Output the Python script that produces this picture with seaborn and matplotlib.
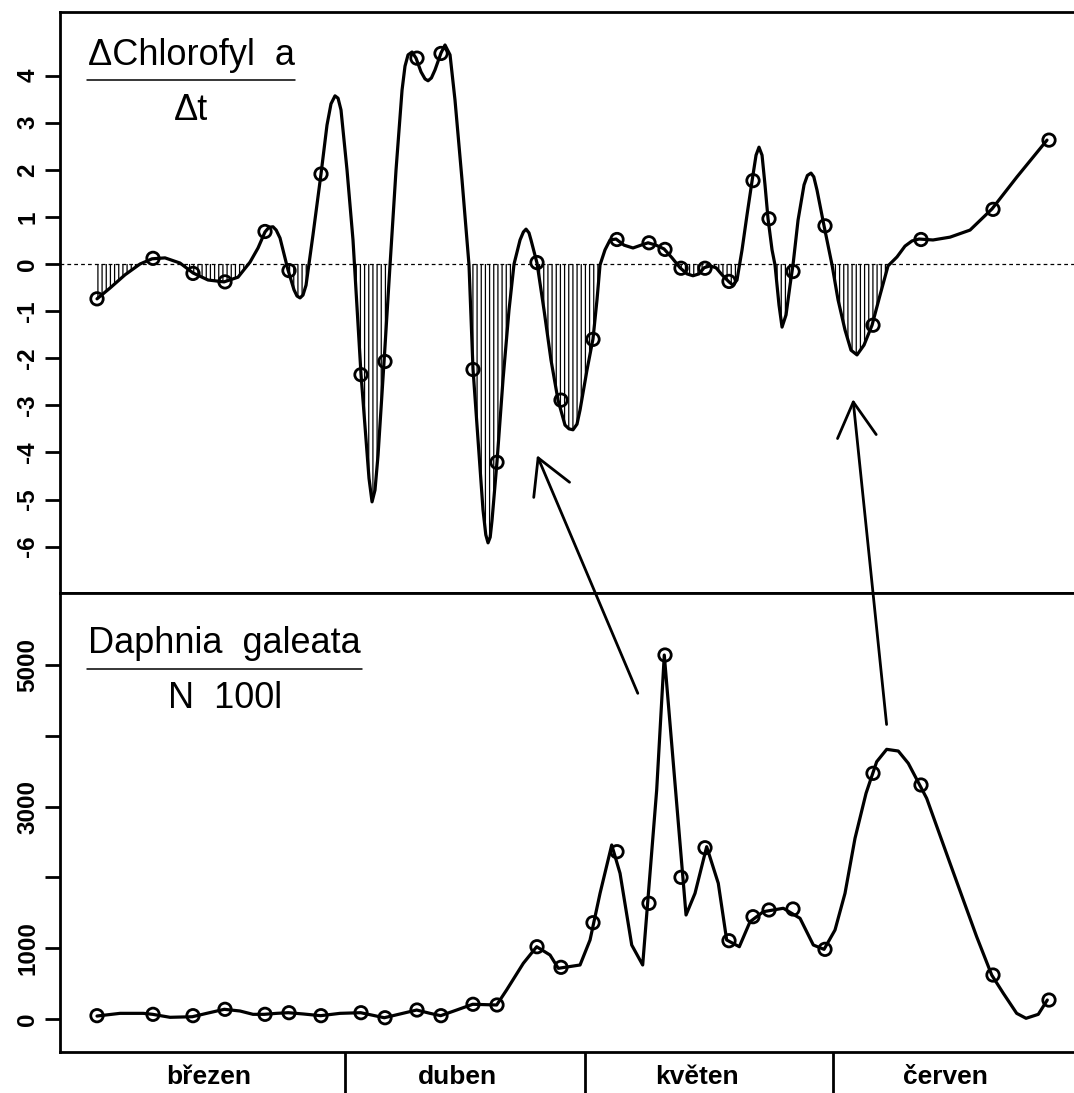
import numpy as np
import pandas as pd
import matplotlib
matplotlib.use("Agg")
import matplotlib.pyplot as plt
import seaborn as sns
from matplotlib.patches import ConnectionPatch

# ---------------- data (x = days since 1 March) ----------------
sample_days = [0, 7, 12, 16, 21, 24, 28, 33, 36, 40, 43, 47, 50, 55, 58,
               62, 65, 69, 71, 73, 76, 79, 82, 84, 87, 91, 97, 103, 112, 119]
chl_rate = [-0.74, 0.12, -0.20, -0.38, 0.69, -0.14, 1.91, -2.35, -2.07, 4.37,
            4.47, -2.24, -4.21, 0.03, -2.89, -1.60, 0.52, 0.45, 0.31, -0.09,
            -0.09, -0.37, 1.77, 0.96, -0.16, 0.81, -1.30, 0.52, 1.16, 2.63]
daphnia = [47, 66, 47, 137, 66, 89, 47, 89, 18, 127, 47, 208, 198, 1021, 730,
           1360, 2363, 1634, 5141, 2001, 2419, 1106, 1445, 1540, 1554, 984,
           3470, 3305, 621, 268]

# smooth curve of dChl/dt
chl_curve_day = [0, 1.63, 3.5, 5.38, 6.88, 8.5, 10.38, 12.0, 13.88, 15.88, 17.63, 19.13,
                 20.13, 21.0, 21.5, 22.0, 22.4, 22.88, 23.88, 24.63, 25.0, 25.38, 25.75,
                 26.13, 27.0, 28.0, 28.75, 29.25, 29.75, 30.13, 30.5, 31.25, 32.0, 33.0,
                 33.63, 34.0, 34.38, 34.75, 35.13, 35.88, 36.63, 37.38, 38.13, 38.5, 38.88,
                 39.38, 39.88, 40.5, 41.0, 41.38, 41.8, 42.25, 43.0, 43.5, 44.13, 44.75,
                 45.63, 46.5, 47.0, 47.63, 48.25, 48.6, 48.88, 49.15, 49.38, 50.0, 50.75,
                 51.5, 52.13, 52.88, 53.3, 53.63, 54.0, 54.25, 55.0, 55.88, 56.75, 57.63,
                 58.5, 59.0, 59.5, 60.0, 60.38, 61.25, 62.0, 62.5, 62.88, 63.5, 64.13,
                 64.88, 65.88, 67.0, 68.0, 68.88, 69.88, 70.88, 71.88, 72.88, 73.75, 74.5,
                 75.25, 75.88, 76.63, 77.38, 78.13, 79.0, 79.5, 80.0, 80.63, 81.25, 81.88,
                 82.38, 82.75, 83.13, 83.5, 83.88, 84.38, 84.75, 85.25, 85.63, 86.13, 86.63,
                 87.0, 87.63, 88.38, 88.8, 89.25, 89.6, 90.0, 90.88, 91.38, 91.88, 92.63,
                 93.5, 94.25, 95.0, 95.88, 96.88, 97.88, 98.88, 100.0, 101.0, 101.88,
                 102.75, 104.5, 106.63, 109.13, 111.88, 115.0, 118.75]
chl_curve_val = [-0.74, -0.51, -0.23, 0.00, 0.11, 0.13, 0.02, -0.19, -0.34, -0.38, -0.28, 0.04,
                 0.34, 0.68, 0.78, 0.79, 0.72, 0.55, -0.13, -0.55, -0.68, -0.72, -0.66,
                 -0.45, 0.62, 1.91, 2.95, 3.40, 3.57, 3.52, 3.27, 2.00, 0.51, -2.34,
                 -3.74, -4.55, -5.05, -4.80, -4.06, -2.08, -0.02, 2.00, 3.69, 4.20, 4.44,
                 4.50, 4.37, 4.08, 3.93, 3.89, 3.95, 4.12, 4.48, 4.65, 4.44, 3.48,
                 1.78, -0.02, -2.23, -3.74, -5.22, -5.75, -5.92, -5.80, -5.44, -4.20, -2.46,
                 -0.98, 0.00, 0.51, 0.68, 0.74, 0.66, 0.51, 0.02, -0.98, -2.04, -2.89,
                 -3.42, -3.50, -3.52, -3.40, -3.10, -2.25, -1.59, -0.76, -0.02, 0.30, 0.51,
                 0.53, 0.40, 0.34, 0.40, 0.45, 0.40, 0.32, 0.13, -0.08, -0.21, -0.25,
                 -0.21, -0.08, -0.04, -0.08, -0.23, -0.38, -0.45, -0.34, 0.30, 1.04, 1.76,
                 2.31, 2.48, 2.31, 1.68, 0.96, 0.30, -0.02, -0.87, -1.34, -1.08, -0.45,
                 -0.02, 0.93, 1.68, 1.88, 1.93, 1.85, 1.57, 0.81, 0.40, -0.02, -0.76,
                 -1.40, -1.83, -1.93, -1.72, -1.30, -0.66, -0.04, 0.15, 0.38, 0.49,
                 0.53, 0.51, 0.57, 0.72, 1.17, 1.85, 2.63]

# Daphnia line
daph_curve_day = [0, 2.88, 5.79, 6.96, 9.13, 11.91, 13.71, 15.91, 17.88, 19.5, 20.91, 22.46,
                  23.91, 25.79, 27.96, 30.38, 32.96, 34.34, 35.91, 37.88, 39.96, 41.63,
                  42.96, 44.96, 46.96, 49.96, 51.2, 53.29, 54.96, 56.63, 57.66, 60.38,
                  61.63, 62.88, 64.34, 65.38, 66.84, 68.21, 69.96, 70.91, 72.04, 73.63,
                  74.75, 76.21, 77.66, 78.71, 80.29, 81.63, 83.29, 85.79, 87.88, 89.54,
                  90.88, 92.25, 93.5, 94.75, 96.13, 97.46, 98.71, 100.16, 101.41, 103.71,
                  106.63, 108.29, 109.96, 111.84, 113.29, 114.96, 116.13, 117.66, 118.79]
daph_curve_val = [42, 80, 80, 66, 24, 32, 80, 137, 113, 66, 66, 80,
                  89, 71, 47, 80, 89, 56, 18, 71, 127, 80,
                  47, 127, 208, 198, 410, 787, 1021, 904, 716, 763,
                  1116, 1775, 2458, 2058, 1045, 763, 3234, 5141, 3612, 1469,
                  1775, 2434, 1917, 1116, 1021, 1374, 1516, 1564, 1422, 1045,
                  984, 1257, 1775, 2552, 3188, 3634, 3809, 3785, 3612, 3117,
                  2199, 1681, 1162, 621, 363, 80, 10, 66, 268]

month_names = ["březen", "duben", "květen", "červen"]
month_mid_days = [14, 45, 75, 106]
month_bounds = [31, 61, 92]
chl_ticks = [-6, -5, -4, -3, -2, -1, 0, 1, 2, 3, 4]
daph_ticks = [0, 1000, 2000, 3000, 4000, 5000]
daph_tick_labels = ["0", "1000", "", "3000", "", "5000"]

# arrows: (tail in lower panel) -> (tip in upper panel)
arrow_tails = [(67.6, 4600), (98.7, 4160)]
arrow_tips = [(55.0, -4.06), (94.5, -2.87)]

# ---------------- style ----------------
sns.set_style("ticks")
plt.rcParams["font.family"] = ["Liberation Sans", "DejaVu Sans"]
plt.rcParams["hatch.linewidth"] = 0.9
plt.rcParams["axes.linewidth"] = 2.0
for key in ("text.color", "axes.labelcolor", "xtick.color", "ytick.color",
            "axes.edgecolor"):
    plt.rcParams[key] = "black"

W, H = 1074, 1093
fig = plt.figure(figsize=(W / 100, H / 100), dpi=100)


def px_axes(l, t, r, b):
    return [l / W, 1 - b / H, (r - l) / W, (b - t) / H]


ax1 = fig.add_axes(px_axes(60, 12, 1074, 593))
ax2 = fig.add_axes(px_axes(60, 593, 1074, 1052))

xlim = (-4.625, 122.125)

# ---------------- upper panel ----------------
curve = pd.DataFrame({"day": chl_curve_day, "val": chl_curve_val})
cv = np.array(chl_curve_val)
ax1.fill_between(curve["day"], curve["val"], 0, where=cv < 0, interpolate=True,
                 facecolor="none", edgecolor="black", hatch="||||", linewidth=0)
ax1.axhline(0, color="black", lw=0.9, ls=(0, (3, 2.5)))
sns.lineplot(data=curve, x="day", y="val", ax=ax1, color="black", lw=2.3,
             sort=False, estimator=None)
sns.scatterplot(x=sample_days, y=chl_rate, ax=ax1, marker="o", s=80,
                facecolor="none", edgecolor="black", linewidth=2.0, zorder=3)
ax1.set_xlim(*xlim)
ax1.set_ylim(-6.985, 5.35)
ax1.set_xticks([])
ax1.set_yticks(chl_ticks)
ax1.set_yticklabels([str(t) for t in chl_ticks], fontweight="bold")
ax1.set_xlabel("")
ax1.set_ylabel("")

ax1.text(0.0276, 0.9088, "ΔChlorofyl  a", transform=ax1.transAxes,
         fontsize=26, ha="left", va="baseline", color="black")
ax1.plot([0.0266, 0.2318], [0.8830, 0.8830], transform=ax1.transAxes,
         color="black", lw=1.1)
ax1.text(0.1292, 0.8141, "Δt", transform=ax1.transAxes,
         fontsize=26, ha="center", va="baseline", color="black")

# ---------------- lower panel ----------------
dcurve = pd.DataFrame({"day": daph_curve_day, "val": daph_curve_val})
sns.lineplot(data=dcurve, x="day", y="val", ax=ax2, color="black", lw=2.3,
             sort=False, estimator=None)
sns.scatterplot(x=sample_days, y=daphnia, ax=ax2, marker="o", s=80,
                facecolor="none", edgecolor="black", linewidth=2.0, zorder=3)
ax2.set_xlim(*xlim)
ax2.set_ylim(-466, 6017)
ax2.set_yticks(daph_ticks)
ax2.set_yticklabels(daph_tick_labels, fontweight="bold")
ax2.set_xticks(month_bounds)
ax2.set_xticklabels([])
ax2.set_xticks(month_mid_days, minor=True)
ax2.set_xticklabels(month_names, minor=True, fontweight="bold", fontsize=19)
ax2.tick_params(axis="x", which="major", length=29.5, width=2, direction="out")
ax2.tick_params(axis="x", which="minor", length=0, pad=9)
ax2.set_xlabel("")
ax2.set_ylabel("")

ax2.text(0.0276, 0.8693, "Daphnia  galeata", transform=ax2.transAxes,
         fontsize=26, ha="left", va="baseline", color="black")
ax2.plot([0.0266, 0.2978], [0.8344, 0.8344], transform=ax2.transAxes,
         color="black", lw=1.1)
ax2.text(0.1627, 0.7495, "N  100l", transform=ax2.transAxes,
         fontsize=26, ha="center", va="baseline", color="black")

for ax in (ax1, ax2):
    ax.spines["right"].set_visible(False)
    for s in ("left", "top", "bottom"):
        ax.spines[s].set_linewidth(2.0)
        ax.spines[s].set_color("black")
    ax.tick_params(axis="y", direction="out", length=11, width=2,
                   labelsize=17.5, pad=4, labelrotation=90)
    for lab in ax.get_yticklabels():
        lab.set_verticalalignment("center")

# ---------------- arrows ----------------
for tail, tip in zip(arrow_tails, arrow_tips):
    con = ConnectionPatch(xyA=tail, coordsA="data", axesA=ax2,
                          xyB=tip, coordsB="data", axesB=ax1,
                          arrowstyle="->,head_length=2.5,head_width=1.4",
                          mutation_scale=10, lw=2.0, color="black")
    fig.add_artist(con)

fig.savefig("out.png", dpi=100)
